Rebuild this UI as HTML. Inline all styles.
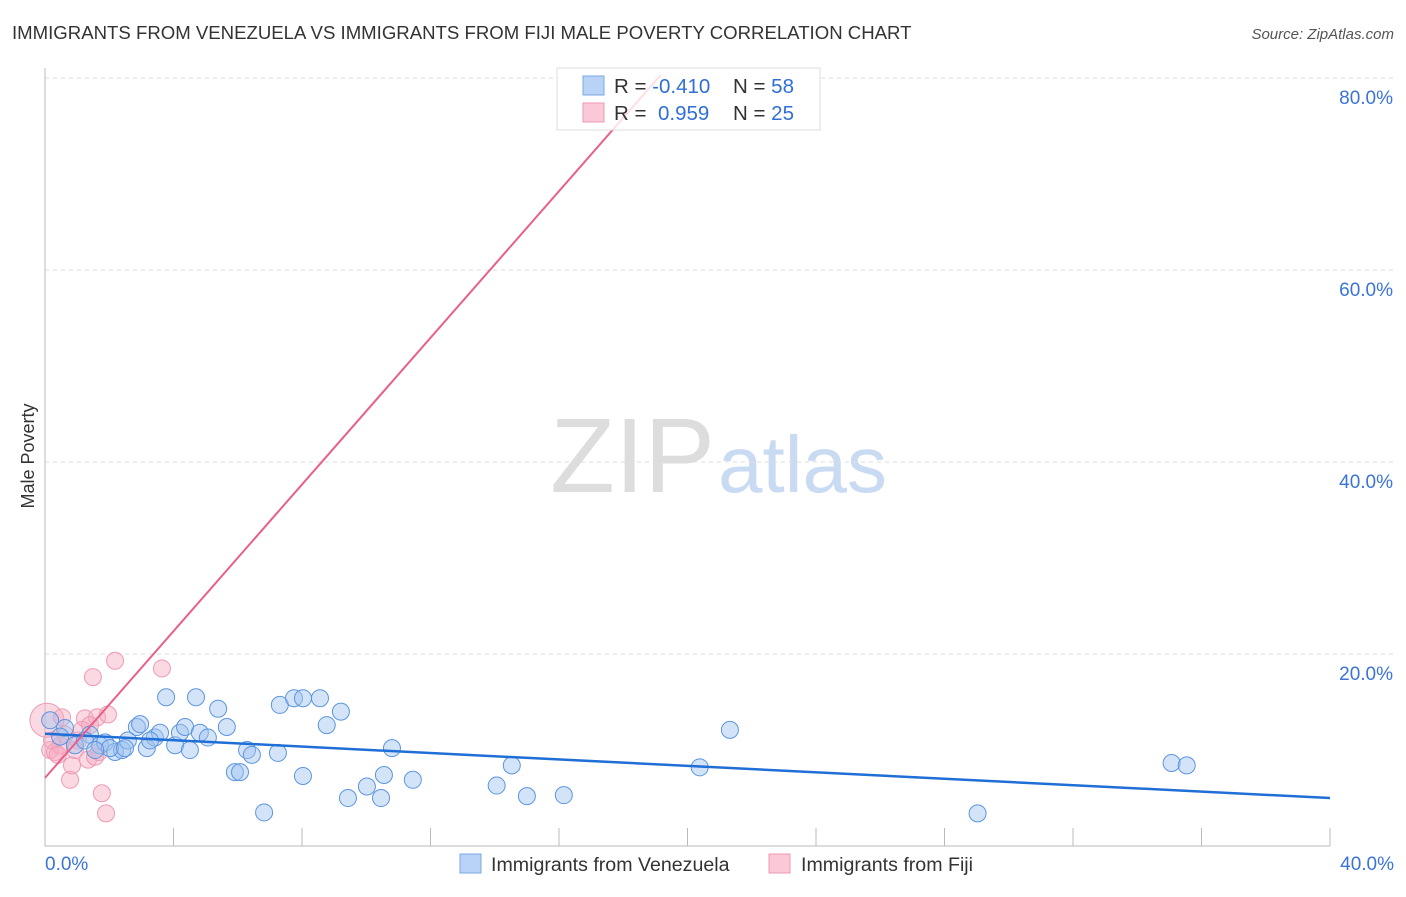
<!DOCTYPE html>
<html><head><meta charset="utf-8"><style>
body{margin:0;background:#fff;font-family:"Liberation Sans",sans-serif}
svg text{font-family:"Liberation Sans",sans-serif}
</style></head><body>
<svg id="c" width="1406" height="892">
<text x="12" y="39" font-size="18.6" fill="#333">IMMIGRANTS FROM VENEZUELA VS IMMIGRANTS FROM FIJI MALE POVERTY CORRELATION CHART</text>
<text x="1394" y="39" font-size="15" fill="#555" font-style="italic" text-anchor="end">Source: ZipAtlas.com</text>
<text x="34" y="456" font-size="18" fill="#333" text-anchor="middle" transform="rotate(-90 34 456)">Male Poverty</text>
<text x="715" y="492" font-size="106" fill="#ddd" font-family="Liberation Serif" text-anchor="end">ZIP</text>
<text x="718" y="492" font-size="80" fill="#c9daf3">atlas</text>
<g id="grid"></g><g id="pts"></g><g id="lines"></g>
<g>
<rect x="557" y="68" width="263" height="62" fill="#fff" fill-opacity="0.8" stroke="#ddd"/>
<rect x="583" y="76" width="21" height="19" fill="#b8d3f5" stroke="#7aa8e6"/>
<rect x="583" y="103" width="21" height="19" fill="#fac8d6" stroke="#ee9ab2"/>
<text x="614" y="93" font-size="20.5" fill="#333">R = <tspan fill="#2f6fd6">-0.410</tspan><tspan x="733">N = </tspan><tspan fill="#2f6fd6">58</tspan></text>
<text x="614" y="120" font-size="20.5" fill="#333">R = <tspan x="658" fill="#2f6fd6">0.959</tspan><tspan x="733">N = </tspan><tspan fill="#2f6fd6">25</tspan></text>
</g>
<g>
<rect x="460" y="854" width="21" height="19" fill="#b8d3f5" stroke="#7aa8e6"/>
<text x="491" y="871" font-size="19.6" fill="#333">Immigrants from Venezuela</text>
<rect x="769" y="854" width="21" height="19" fill="#fac8d6" stroke="#ee9ab2"/>
<text x="801" y="871" font-size="19.6" fill="#333">Immigrants from Fiji</text>
</g>
</svg>
<script>
const yTicks=[20,40,60,80];
const yTickLabels=["20.0%","40.0%","60.0%","80.0%"];
const xTickLabels=["0.0%","40.0%"];
const blueX=[0.16,0.62,0.93,1.4,1.71,1.87,2.18,2.4,2.58,2.86,2.96,3.17,3.42,3.58,3.77,4.05,4.2,4.36,4.51,4.7,4.82,5.07,5.39,5.66,5.91,6.07,6.29,6.44,6.82,7.25,7.31,7.75,8.03,8.03,8.56,8.77,9.21,9.43,10.02,10.46,10.55,10.8,11.45,14.06,14.53,15.0,16.15,20.38,21.32,29.03,35.07,35.54,0.47,1.24,2.02,3.27,2.49,1.56];
const blueY=[13.2,12.4,10.6,11.7,10.6,10.9,9.9,10.1,11.1,12.5,12.8,10.3,11.4,11.9,15.6,10.6,11.9,12.5,10.1,15.6,11.9,11.4,14.4,12.5,7.8,7.8,10.1,9.6,3.6,9.8,14.8,15.5,15.5,7.4,15.5,12.7,14.1,5.1,6.3,5.1,7.5,10.3,7.0,6.4,8.5,5.3,5.4,8.3,12.2,3.5,8.75,8.5,11.5,11.1,10.3,11.1,10.3,10.1];
const pinkX=[0.06,0.16,0.31,0.53,0.78,0.84,1.03,1.24,1.34,1.49,1.56,1.62,1.68,1.77,1.9,1.96,2.18,3.64,0.47,0.62,1.15,1.4,0.93,0.22,0.4];
const pinkY=[13.2,10.1,9.9,13.5,7.0,8.5,11.1,13.4,9.1,17.7,9.4,13.5,9.9,5.6,3.5,13.8,19.4,18.6,10.6,11.7,12.2,12.7,10.1,11.1,9.6];
const blueLine=[11.8,5.1];
const pinkLine=[7.2,3.82];
const X0=45,X1=1330,Y0=847,PY=9.6;
const sx=v=>X0+(v/40)*(X1-X0), sy=v=>Y0-v*PY;
const NS="http://www.w3.org/2000/svg";
function mk(t,a,p){const e=document.createElementNS(NS,t);for(const k in a)e.setAttribute(k,a[k]);p.appendChild(e);return e;}
const g=document.getElementById('grid');
yTicks.forEach((t,i)=>{
 const l=mk('line',{x1:X0,x2:1394,y1:sy(t)-1,y2:sy(t)-1,stroke:'#ddd','stroke-dasharray':'4,4'},g);
 
 
 const tx=mk('text',{x:1393,y:sy(t)+25,'font-size':19,fill:'#3b74d6','text-anchor':'end'},g);
 tx.textContent=yTickLabels[i];
 
 
});
const ax=mk('line',{x1:X0,x2:X0,y1:68,y2:846,stroke:'#bbb'},g);


const bx=mk('line',{x1:X0,x2:X1,y1:846,y2:846,stroke:'#bbb'},g);


for(let i=1;i<=10;i++){const t=mk('line',{x1:sx(i*4),x2:sx(i*4),y1:828,y2:846,stroke:'#bbb'},g);
 
 }
[[0,'start',45],[40,'end',1394]].forEach((d,i)=>{const t=mk('text',{x:d[2],y:870,'font-size':19,fill:'#3b74d6','text-anchor':d[1]},g);t.textContent=xTickLabels[i];
 
 });
const p=document.getElementById('pts');
pinkX.forEach((x,i)=>{const c=mk('circle',{cx:sx(x),cy:sy(pinkY[i]),r:i==0?17:8.5,fill:'rgba(246,170,192,0.45)',stroke:'#ef9ab3','stroke-width':1},p);
 
 });
blueX.forEach((x,i)=>{const c=mk('circle',{cx:sx(x),cy:sy(blueY[i]),r:8.5,fill:'rgba(160,196,240,0.45)',stroke:'#5d95de','stroke-width':1},p);
 
 });
const L=document.getElementById('lines');
const b=mk('line',{x1:sx(0),y1:sy(blueLine[0]),x2:sx(40),y2:sy(blueLine[1]),stroke:'#1f6fd6','stroke-width':2.5},L);


const xe=(80.4-pinkLine[0])/pinkLine[1];
const pk=mk('line',{x1:sx(0),y1:sy(pinkLine[0]),x2:sx(xe),y2:sy(pinkLine[0]+pinkLine[1]*xe),stroke:'#e8608a','stroke-width':2},L);


</script>
</body></html>
